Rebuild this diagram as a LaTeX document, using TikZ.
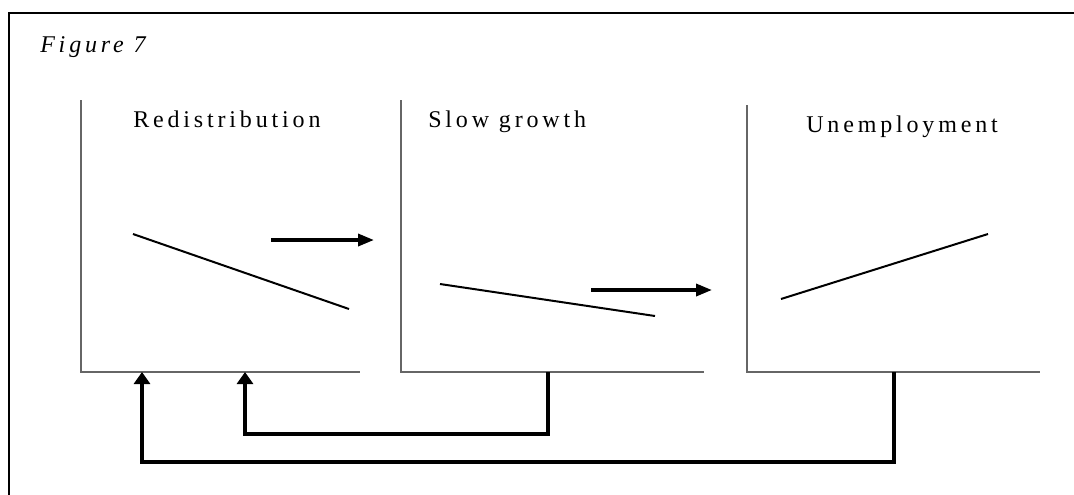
\documentclass[tikz,border=0pt]{standalone}
\usepackage{fontspec}
\setmainfont{Liberation Serif}
\newfontfamily\spacedfont[LetterSpace=16]{Liberation Serif}
\usetikzlibrary{arrows.meta,positioning}

\tikzset{
	axisline/.style={draw=black!60, line width=0.8pt},
	trendline/.style={line width=1.5pt},
	flowarrow/.style={line width=2.6pt, -{Triangle[length=12pt,width=9pt]}},
	feedback/.style={line width=3.4pt, -{Triangle[length=9pt,width=12pt]}},
	panellabel/.style={font=\spacedfont\fontsize{18}{21}\selectfont, anchor=base west, inner sep=0pt},
}

\begin{document}
\begin{tikzpicture}[x=0.75pt,y=-0.75pt]
	\useasboundingbox (0,0) rectangle (1074,494);
	% frame, open at the right and bottom
	\draw[line width=1.5pt] (9,520) -- (9,13) -- (1100,13);
	\node[panellabel, font=\spacedfont\itshape\fontsize{18}{21}\selectfont] (title) at (40,52) {Figure 7};

	% axes of the three panels
	\coordinate (o1) at (81,372);
	\coordinate (o2) at (401,372);
	\coordinate (o3) at (747,372);
	\draw[axisline] (81,100) -- (o1) -- (360,372);
	\draw[axisline] (401,100) -- (o2) -- (704,372);
	\draw[axisline] (747,105) -- (o3) -- (1040,372);

	% panel labels
	\node[panellabel] (redist) at (133,127) {Redistribution};
	\node[panellabel] (slow) at (428,127) {Slow growth};
	\node[panellabel] (unemp) at (806,132) {Unemployment};

	% trend lines
	\draw[trendline] (133,234) -- (349,309);
	\draw[trendline] (440,284) -- (655,316);
	\draw[trendline] (781,299) -- (988,234);

	% arrows between panels
	\coordinate (a1) at (271,240);
	\coordinate (a2) at (374,240);
	\coordinate (b1) at (591,290);
	\coordinate (b2) at (712,290);
	\draw[flowarrow] (a1) -- (a2);
	\draw[flowarrow] (b1) -- (b2);

	% feedback back to redistribution
	\coordinate (f1) at (548,372);
	\coordinate (f2) at (245,372);
	\coordinate (g1) at (894,372);
	\coordinate (g2) at (142,372);
	\draw[feedback] (f1) -- (548,434) -| (f2);
	\draw[feedback] (g1) -- (894,462) -| (g2);
\end{tikzpicture}
\end{document}
